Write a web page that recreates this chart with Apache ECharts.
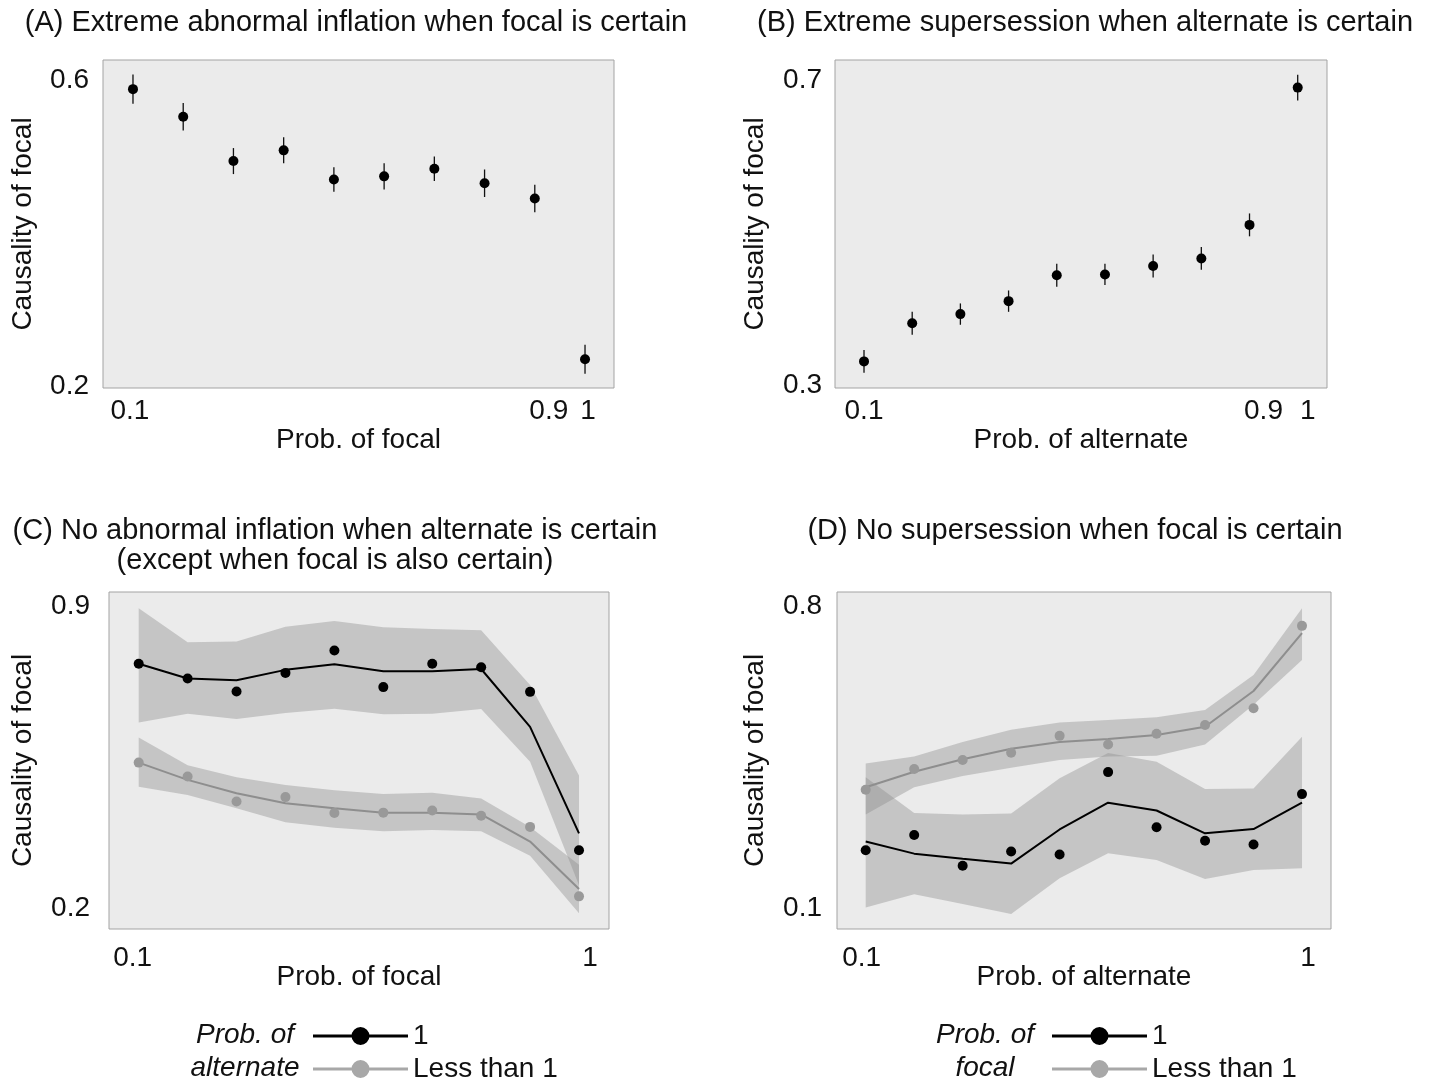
<!DOCTYPE html>
<html><head><meta charset="utf-8">
<script src="https://cdn.jsdelivr.net/npm/echarts@6/dist/echarts.min.js"></script>
<style>html,body{margin:0;padding:0;background:#fff}#c{width:1435px;height:1082px}</style>
</head><body><div id="c"></div>
<script>
// ---- data ----
const probs = [0.1, 0.2, 0.3, 0.4, 0.5, 0.6, 0.7, 0.8, 0.9, 1.0];
const xTicksAB = [0.1, 0.9, 1];
const xTicksCD = [0.1, 1];
const yTicksA = [0.2, 0.6];
const yTicksB = [0.3, 0.7];
const yTicksC = [0.2, 0.9];
const yTicksD = [0.1, 0.8];
const legendNames = ['1', 'Less than 1'];

// (A)
const aMean = [0.588, 0.552, 0.494, 0.508, 0.470, 0.474, 0.484, 0.465, 0.445, 0.235];
const aErr  = [0.019, 0.018, 0.017, 0.017, 0.016, 0.017, 0.016, 0.018, 0.018, 0.019];
// (B)
const bMean = [0.331, 0.381, 0.393, 0.410, 0.444, 0.445, 0.456, 0.466, 0.510, 0.690];
const bErr  = [0.015, 0.015, 0.014, 0.014, 0.015, 0.014, 0.015, 0.015, 0.015, 0.017];
// (C)
const cCertPts = [0.766, 0.732, 0.702, 0.745, 0.797, 0.712, 0.766, 0.758, 0.701, 0.334];
const cCertFit = [0.766, 0.732, 0.728, 0.752, 0.765, 0.749, 0.749, 0.754, 0.620, 0.373];
const cCertHi  = [0.895, 0.816, 0.818, 0.852, 0.865, 0.851, 0.847, 0.844, 0.717, 0.507];
const cCertLo  = [0.630, 0.650, 0.638, 0.652, 0.662, 0.649, 0.650, 0.661, 0.539, 0.253];
const cLessPts = [0.537, 0.505, 0.447, 0.457, 0.420, 0.421, 0.426, 0.414, 0.388, 0.227];
const cLessFit = [0.537, 0.497, 0.466, 0.443, 0.431, 0.421, 0.421, 0.417, 0.354, 0.244];
const cLessHi  = [0.595, 0.531, 0.503, 0.485, 0.473, 0.464, 0.467, 0.454, 0.388, 0.300];
const cLessLo  = [0.481, 0.462, 0.431, 0.399, 0.386, 0.378, 0.381, 0.378, 0.321, 0.188];
// (D)
const dLessPts = [0.374, 0.422, 0.443, 0.460, 0.499, 0.479, 0.504, 0.524, 0.563, 0.754];
const dLessFit = [0.380, 0.416, 0.445, 0.469, 0.485, 0.492, 0.501, 0.520, 0.603, 0.737];
const dLessHi  = [0.435, 0.451, 0.485, 0.513, 0.530, 0.536, 0.542, 0.559, 0.640, 0.795];
const dLessLo  = [0.317, 0.380, 0.406, 0.425, 0.443, 0.451, 0.453, 0.479, 0.571, 0.675];
const dCertPts = [0.234, 0.269, 0.198, 0.231, 0.224, 0.415, 0.287, 0.256, 0.247, 0.364];
const dCertFit = [0.254, 0.226, 0.214, 0.203, 0.282, 0.344, 0.326, 0.273, 0.283, 0.344];
const dCertHi  = [0.403, 0.320, 0.317, 0.319, 0.401, 0.459, 0.439, 0.376, 0.377, 0.497];
const dCertLo  = [0.101, 0.132, 0.109, 0.086, 0.169, 0.227, 0.211, 0.167, 0.188, 0.192];

// ---- drawing ----
const FONT = "'Liberation Sans', Arial, Helvetica, sans-serif";
const TXT = '#111';
const FS = 28;
const BAND = 'rgba(140,140,140,0.40)';
const GRAY = '#999999';
const pair = ys => probs.map((p, i) => [p, ys[i]]);

function band(idx, lo, hi) {
  return {
    type: 'custom', xAxisIndex: idx, yAxisIndex: idx, silent: true, z: 1,
    data: probs.map((p, i) => [p, lo[i], hi[i]]),
    encode: { x: 0, y: [1, 2] },
    renderItem(params, api) {
      if (params.dataIndex !== 0) return null;
      const pts = [];
      for (let i = 0; i < probs.length; i++) pts.push(api.coord([probs[i], hi[i]]));
      for (let i = probs.length - 1; i >= 0; i--) pts.push(api.coord([probs[i], lo[i]]));
      return { type: 'polygon', shape: { points: pts }, style: { fill: BAND } };
    }
  };
}
function errorBars(idx, mean, err) {
  return {
    type: 'custom', xAxisIndex: idx, yAxisIndex: idx, silent: true, z: 2,
    data: probs.map((p, i) => [p, mean[i] - err[i], mean[i] + err[i]]),
    encode: { x: 0, y: [1, 2] },
    renderItem(params, api) {
      const a = api.coord([api.value(0), api.value(1)]);
      const b = api.coord([api.value(0), api.value(2)]);
      return { type: 'line', shape: { x1: a[0], y1: a[1], x2: b[0], y2: b[1] },
        style: { stroke: '#111', lineWidth: 1.3 } };
    }
  };
}
function xAx(idx, min, max, ticks, name, nameGap, margin, nudge) {
  const rich = {};
  Object.keys(nudge).forEach(k => {
    const s = nudge[k];
    rich['n' + idx + k.replace('.', '_')] = { fontSize: FS, fontFamily: FONT, color: TXT,
      padding: s >= 0 ? [0, 0, 0, 2 * s] : [0, -2 * s, 0, 0] };
  });
  return {
    type: 'value', gridIndex: idx, min, max,
    axisLine: { show: false }, axisTick: { show: false }, splitLine: { show: false },
    axisLabel: {
      customValues: ticks, margin, fontSize: FS, fontFamily: FONT, color: TXT,
      formatter: v => {
        const t = String(v);
        return nudge[t] !== undefined ? '{n' + idx + t.replace('.', '_') + '|' + t + '}' : t;
      },
      rich
    },
    name, nameLocation: 'middle', nameGap, nameMoveOverlap: false,
    nameTextStyle: { fontSize: FS, fontFamily: FONT, color: TXT }
  };
}
function yAx(idx, min, max, ticks, nameGap, margin) {
  return {
    type: 'value', gridIndex: idx, min, max,
    axisLine: { show: false }, axisTick: { show: false }, splitLine: { show: false },
    axisLabel: { customValues: ticks, margin, fontSize: FS, fontFamily: FONT, color: TXT,
      formatter: v => String(v) },
    name: 'Causality of focal', nameLocation: 'middle', nameGap, nameMoveOverlap: false,
    nameTextStyle: { fontSize: FS, fontFamily: FONT, color: TXT }
  };
}
const gridStyle = { show: true, backgroundColor: '#ebebeb', borderColor: '#a3a3a3', borderWidth: 1, containLabel: false };
const legendIcon = 'path://M0,7.5L95,7.5L95,10.5L0,10.5Z M38.5,9a9,9 0 1,1 18,0a9,9 0 1,1 -18,0Z';
const legendColors = ['#000', '#a8a8a8'];

function legendItem(left, centerY, k) {
  return {
    orient: 'horizontal', left, top: centerY - 13, padding: 0,
    itemWidth: 95, itemHeight: 18, selectedMode: false,
    textStyle: { fontSize: FS, fontFamily: FONT, color: TXT, lineHeight: 28 },
    data: [{ name: legendNames[k], icon: legendIcon, itemStyle: { color: legendColors[k] } }]
  };
}
function title(x, y, text) {
  return { type: 'text', x, y, style: { text, font: '29px ' + FONT, fill: TXT,
    textAlign: 'center', textVerticalAlign: 'middle', lineHeight: 30 } };
}

const option = {
  backgroundColor: '#fff',
  animation: false,
  grid: [
    Object.assign({ left: 103, top: 60, width: 511, height: 328 }, gridStyle),
    Object.assign({ left: 835, top: 60, width: 492, height: 328 }, gridStyle),
    Object.assign({ left: 109, top: 592, width: 500, height: 337 }, gridStyle),
    Object.assign({ left: 837, top: 592, width: 494, height: 337 }, gridStyle)
  ],
  xAxis: [
    xAx(0, 0.0403, 1.0577, xTicksAB, 'Prob. of focal', 38, 9, { '0.1': -3, '0.9': 14, '1': 3 }),
    xAx(1, 0.0398, 1.0608, xTicksAB, 'Prob. of alternate', 38, 9, { '0.9': 14, '1': 10 }),
    xAx(2, 0.0393, 1.0613, xTicksCD, 'Prob. of focal', 34, 15, { '0.1': -6, '1': 11 }),
    xAx(3, 0.0408, 1.0598, xTicksCD, 'Prob. of alternate', 34, 15, { '0.1': -4, '1': 6 })
  ],
  yAxis: [
    yAx(0, 0.1974, 0.6261, yTicksA, 66, 14),
    yAx(1, 0.2961, 0.7262, yTicksB, 66, 13),
    yAx(2, 0.1513, 0.9325, yTicksC, 72, 19),
    yAx(3, 0.0513, 0.8325, yTicksD, 68, 15)
  ],
  legend: [legendItem(313, 1035, 0), legendItem(313, 1068, 1), legendItem(1052, 1035, 0), legendItem(1052, 1068, 1)],
  graphic: [
    title(356, 23, '(A) Extreme abnormal inflation when focal is certain'),
    title(1085, 23, '(B) Extreme supersession when alternate is certain'),
    title(335, 546, '(C) No abnormal inflation when alternate is certain\n(except when focal is also certain)'),
    title(1075, 531, '(D) No supersession when focal is certain'),
    { type: 'text', x: 245, y: 1018.5, style: { text: 'Prob. of\nalternate', font: 'italic 28px ' + FONT,
      fill: TXT, textAlign: 'center', textVerticalAlign: 'top', lineHeight: 33 } },
    { type: 'text', x: 985, y: 1018.5, style: { text: 'Prob. of\nfocal', font: 'italic 28px ' + FONT,
      fill: TXT, textAlign: 'center', textVerticalAlign: 'top', lineHeight: 33 } }
  ],
  series: [
    errorBars(0, aMean, aErr),
    { type: 'scatter', xAxisIndex: 0, yAxisIndex: 0, data: pair(aMean), symbolSize: 10, itemStyle: { color: '#000', opacity: 1 }, z: 3 },
    errorBars(1, bMean, bErr),
    { type: 'scatter', xAxisIndex: 1, yAxisIndex: 1, data: pair(bMean), symbolSize: 10, itemStyle: { color: '#000', opacity: 1 }, z: 3 },

    band(2, cCertLo, cCertHi),
    band(2, cLessLo, cLessHi),
    { type: 'line', xAxisIndex: 2, yAxisIndex: 2, data: pair(cCertFit), symbol: 'none', lineStyle: { color: '#000', width: 2 }, z: 3 },
    { type: 'line', xAxisIndex: 2, yAxisIndex: 2, data: pair(cLessFit), symbol: 'none', lineStyle: { color: '#8e8e8e', width: 2 }, z: 3 },
    { name: legendNames[0], type: 'scatter', xAxisIndex: 2, yAxisIndex: 2, data: pair(cCertPts), symbolSize: 10, itemStyle: { color: '#000', opacity: 1 }, z: 4 },
    { name: legendNames[1], type: 'scatter', xAxisIndex: 2, yAxisIndex: 2, data: pair(cLessPts), symbolSize: 10, itemStyle: { color: GRAY, opacity: 1 }, z: 4 },

    band(3, dLessLo, dLessHi),
    band(3, dCertLo, dCertHi),
    { type: 'line', xAxisIndex: 3, yAxisIndex: 3, data: pair(dCertFit), symbol: 'none', lineStyle: { color: '#000', width: 2 }, z: 3 },
    { type: 'line', xAxisIndex: 3, yAxisIndex: 3, data: pair(dLessFit), symbol: 'none', lineStyle: { color: '#8e8e8e', width: 2 }, z: 3 },
    { name: legendNames[0], type: 'scatter', xAxisIndex: 3, yAxisIndex: 3, data: pair(dCertPts), symbolSize: 10, itemStyle: { color: '#000', opacity: 1 }, z: 4 },
    { name: legendNames[1], type: 'scatter', xAxisIndex: 3, yAxisIndex: 3, data: pair(dLessPts), symbolSize: 10, itemStyle: { color: GRAY, opacity: 1 }, z: 4 }
  ]
};
const chart = echarts.init(document.getElementById('c'));
chart.setOption(option);
</script>
</body></html>
